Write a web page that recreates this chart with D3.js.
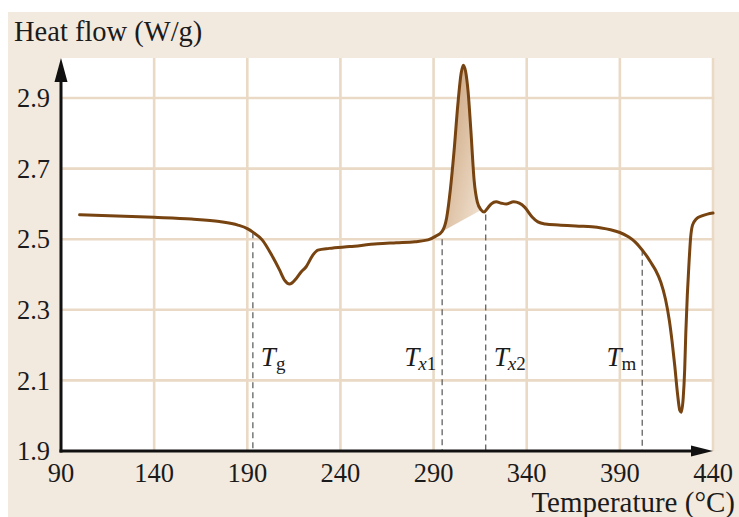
<!DOCTYPE html>
<html>
<head>
<meta charset="utf-8">
<script src="https://cdn.jsdelivr.net/npm/d3@7"></script>
<style>
  html, body { margin: 0; padding: 0; background: #ffffff; }
  svg { display: block; }
  text { font-family: "Liberation Serif", "Times New Roman", serif; fill: #1b1b1b; }
</style>
</head>
<body>
<svg id="chart" width="739" height="517"></svg>
<script>
// ---- data ----
const temps = [100, 120, 140, 160, 175, 185, 190, 193, 198, 203.6, 207.3, 210, 212.7, 216.3, 219, 221.6, 225.2, 227.9, 234, 245, 260, 270, 280, 287, 291, 294.6, 297, 299, 301, 303, 304.8, 306, 307.2, 308.5, 310, 311.8, 313.5, 315.5, 317.1, 319, 321, 323.6, 326.5, 329, 333, 336, 339, 342.9, 346, 350, 357, 368, 375, 380, 385, 390, 394.8, 398, 400.2, 402.5, 405, 407, 409.2, 412, 414.5, 416.5, 418, 419.5, 421, 422.2, 423, 424, 424.8, 425.4, 426.2, 427, 428, 429, 431, 434, 437, 440];
const heatFlow = [2.569, 2.566, 2.562, 2.557, 2.550, 2.540, 2.530, 2.520, 2.498, 2.450, 2.413, 2.384, 2.373, 2.389, 2.408, 2.422, 2.455, 2.469, 2.474, 2.479, 2.487, 2.490, 2.493, 2.498, 2.508, 2.522, 2.560, 2.640, 2.750, 2.880, 2.970, 2.993, 2.975, 2.920, 2.810, 2.665, 2.605, 2.583, 2.577, 2.588, 2.600, 2.606, 2.602, 2.600, 2.606, 2.602, 2.590, 2.563, 2.549, 2.543, 2.540, 2.537, 2.535, 2.532, 2.527, 2.519, 2.506, 2.493, 2.481, 2.466, 2.448, 2.431, 2.412, 2.378, 2.330, 2.272, 2.212, 2.140, 2.060, 2.015, 2.010, 2.050, 2.130, 2.234, 2.340, 2.421, 2.505, 2.540, 2.557, 2.566, 2.571, 2.574];
const xTicks = [90, 140, 190, 240, 290, 340, 390, 440];
const yTicks = [1.9, 2.1, 2.3, 2.5, 2.7, 2.9];
const markerTemps = [193, 294.6, 318, 402];
const markerTops = [2.52, 2.50, 2.57, 2.47];
const markerMain = ["T", "T", "T", "T"];
const markerSubItalic = ["", "x", "x", ""];
const markerSubUpright = ["g", "1", "2", "m"];
const peakStart = 294.6, peakEnd = 315.5;
const yTitle = "Heat flow (W/g)";
const xTitle = "Temperature (°C)";

// ---- layout ----
const svg = d3.select("#chart");
const plotLeft = 61, plotRight = 713, plotTop = 58, plotBottom = 451;
const x = d3.scaleLinear().domain([90, 440]).range([plotLeft, plotRight]);
const y = d3.scaleLinear().domain([1.9, 2.9]).range([plotBottom, 98]);

const defs = svg.append("defs");
const grad = defs.append("linearGradient").attr("id", "peakGrad")
  .attr("x1", "0%").attr("y1", "0%").attr("x2", "100%").attr("y2", "100%");
grad.append("stop").attr("offset", "0%").attr("stop-color", "#c49c72");
grad.append("stop").attr("offset", "55%").attr("stop-color", "#dfc4a8");
grad.append("stop").attr("offset", "100%").attr("stop-color", "#f2e4d5");

// background
svg.append("rect").attr("x", 8).attr("y", 12).attr("width", 731).attr("height", 505).attr("fill", "#f3eadf");
svg.append("rect").attr("x", plotLeft).attr("y", plotTop)
  .attr("width", plotRight - plotLeft).attr("height", plotBottom - plotTop).attr("fill", "#ffffff");

// grid
const gridColor = "#e9d9c5";
svg.append("g").selectAll("line").data(xTicks.slice(1)).join("line")
  .attr("x1", d => x(d)).attr("x2", d => x(d))
  .attr("y1", plotTop).attr("y2", plotBottom)
  .attr("stroke", gridColor).attr("stroke-width", 2.6);
svg.append("g").selectAll("line").data(yTicks.slice(1)).join("line")
  .attr("x1", plotLeft).attr("x2", plotRight + 1.3)
  .attr("y1", d => y(d)).attr("y2", d => y(d))
  .attr("stroke", gridColor).attr("stroke-width", 2.6);

// data points
const pts = temps.map((t, i) => [t, heatFlow[i]]);
const line = d3.line().x(d => x(d[0])).y(d => y(d[1])).curve(d3.curveMonotoneX);

// shaded crystallization peak
const peakPts = pts.filter(d => d[0] >= peakStart && d[0] <= peakEnd);
svg.append("path").attr("d", line(peakPts) + "Z")
  .attr("fill", "url(#peakGrad)").attr("stroke", "none");

// dashed marker lines
svg.append("g").selectAll("line").data(markerTemps).join("line")
  .attr("x1", d => x(d)).attr("x2", d => x(d))
  .attr("y1", (d, i) => y(markerTops[i])).attr("y2", plotBottom)
  .attr("stroke", "#555").attr("stroke-width", 1.2).attr("stroke-dasharray", "6,4");

// curve
svg.append("path").attr("d", line(pts))
  .attr("fill", "none").attr("stroke", "#774310").attr("stroke-width", 3)
  .attr("stroke-linejoin", "round").attr("stroke-linecap", "round");

// marker labels
const labelSide = [1, -1, 1, -1];
const labelY = y(2.14);
markerTemps.forEach((t, i) => {
  const side = labelSide[i];
  const txt = svg.append("text")
    .attr("x", x(t) + (side > 0 ? 8 : -6))
    .attr("y", labelY)
    .attr("text-anchor", side > 0 ? "start" : "end")
    .attr("font-size", 27);
  txt.append("tspan").attr("font-style", "italic").text(markerMain[i]);
  if (markerSubItalic[i]) {
    txt.append("tspan").attr("font-style", "italic").attr("font-size", 19).attr("dy", 4).attr("dx", -1).text(markerSubItalic[i]);
    txt.append("tspan").attr("font-size", 19).text(markerSubUpright[i]);
  } else {
    txt.append("tspan").attr("font-size", 19).attr("dy", 4).text(markerSubUpright[i]);
  }
});

// axes
svg.append("line").attr("x1", plotLeft).attr("x2", plotLeft).attr("y1", plotBottom + 1.5).attr("y2", plotTop + 18)
  .attr("stroke", "#111").attr("stroke-width", 3);
svg.append("path").attr("d", `M${plotLeft},${plotTop} L${plotLeft - 6.5},${plotTop + 24} L${plotLeft + 6.5},${plotTop + 24} Z`).attr("fill", "#111");
svg.append("line").attr("x1", plotLeft - 1.5).attr("x2", plotRight - 18).attr("y1", plotBottom).attr("y2", plotBottom)
  .attr("stroke", "#111").attr("stroke-width", 3);
svg.append("path").attr("d", `M${plotRight},${plotBottom} L${plotRight - 22},${plotBottom - 5.5} L${plotRight - 22},${plotBottom + 5.5} Z`).attr("fill", "#111");

// tick labels
svg.append("g").selectAll("text").data(yTicks).join("text")
  .attr("x", 50).attr("y", d => y(d)).attr("dy", "0.35em")
  .attr("text-anchor", "end").attr("font-size", 26.5)
  .text(d => d3.format(".1f")(d));
svg.append("g").selectAll("text").data(xTicks).join("text")
  .attr("x", d => x(d)).attr("y", 482)
  .attr("text-anchor", "middle").attr("font-size", 26.5)
  .text(d => d);

// titles
svg.append("text").attr("x", 14).attr("y", 41).attr("font-size", 28.5).text(yTitle);
svg.append("text").attr("x", 735).attr("y", 512).attr("text-anchor", "end").attr("font-size", 29).text(xTitle);
</script>
</body>
</html>
